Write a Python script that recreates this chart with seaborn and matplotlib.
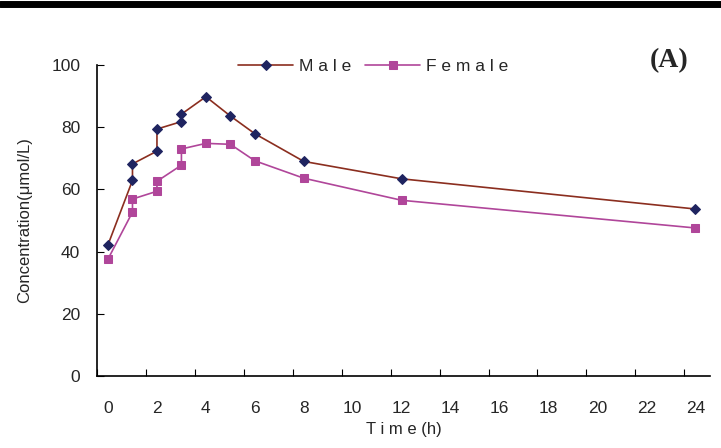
import matplotlib
matplotlib.use("Agg")
import matplotlib.pyplot as plt
import seaborn as sns
import pandas as pd

time = [0, 1, 1, 2, 2, 3, 3, 4, 5, 6, 8, 12, 24]
male = [42.2, 62.9, 68.2, 72.3, 79.4, 81.8, 84.2, 89.8, 83.6, 77.9, 69.0, 63.4, 53.7]
female = [37.6, 52.7, 56.9, 59.4, 62.6, 67.8, 73.0, 74.8, 74.5, 69.2, 63.6, 56.5, 47.6]

df = pd.concat([
    pd.DataFrame({"Time": time, "Conc": male, "Sex": "Male"}),
    pd.DataFrame({"Time": time, "Conc": female, "Sex": "Female"}),
])

sns.set_style("white")
plt.rcParams["font.family"] = ["Liberation Sans", "DejaVu Sans"]

fig = plt.figure(figsize=(7.21, 4.48), dpi=100)
ax = fig.add_axes([97 / 721, 1 - 376 / 448, 613 / 721, 311 / 448])

sns.lineplot(data=df[df.Sex == "Male"], x="Time", y="Conc", sort=False, estimator=None,
             color="#8B2E1F", marker="D", markersize=5.5, markerfacecolor="#1F2460",
             markeredgecolor="#1F2460", lw=1.2, label="Male", ax=ax)
sns.lineplot(data=df[df.Sex == "Female"], x="Time", y="Conc", sort=False, estimator=None,
             color="#B0469A", marker="s", markersize=5.5, markerfacecolor="#B0469A",
             markeredgecolor="#B0469A", lw=1.2, label="Female", ax=ax)

ax.set_xlim(-0.45, 24.6)
ax.set_ylim(0, 100)
ax.set_yticks(range(0, 101, 20))
ax.tick_params(axis="y", direction="in", length=5, labelsize=12.5, color="black", left=True, pad=12)
# tick marks sit between the labels, as in the source
ax.set_xticks([-0.45 + 2 * k for k in range(13)])
ax.set_xticklabels([])
ax.set_xticks(range(0, 25, 2), minor=True)
ax.set_xticklabels([str(v) for v in range(0, 25, 2)], minor=True, fontsize=12.5)
ax.tick_params(axis="x", which="major", direction="in", length=5, bottom=True, color="black")
ax.tick_params(axis="x", which="minor", length=0, pad=18)
for s in ["top", "right"]:
    ax.spines[s].set_visible(False)
for s in ["left", "bottom"]:
    ax.spines[s].set_color("black")
    ax.spines[s].set_linewidth(1.2)

ax.set_xlabel("T i m e (h)", fontsize=12, labelpad=4)
ax.set_ylabel("Concentration(μmol/L)", fontsize=12, labelpad=14)

ax.legend(loc="upper center", bbox_to_anchor=(0.45, 1.07), ncol=2, frameon=False,
          fontsize=12.5, handlelength=3.2, columnspacing=0.8, handletextpad=0.3,
          labels=["M a l e", "F e m a l e"])
fig.text(0.955, 0.85, "(A)", fontsize=20, fontweight="bold", family="Liberation Serif", ha="right")
fig.add_artist(plt.Line2D([0, 1], [1 - 4 / 448, 1 - 4 / 448], color="black", lw=5))

fig.savefig("out.png", dpi=100)
